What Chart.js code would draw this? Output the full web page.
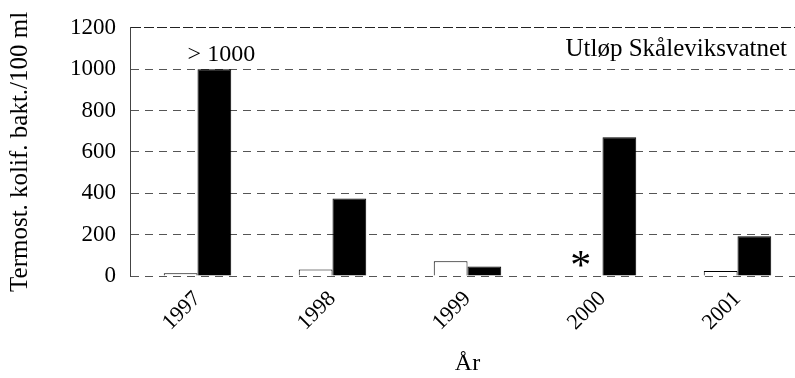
<!DOCTYPE html>
<html>
<head>
<meta charset="utf-8">
<script src="https://cdn.jsdelivr.net/npm/chart.js@4/dist/chart.umd.min.js"></script>
<style>
  html, body { margin: 0; padding: 0; background: #fff; overflow: hidden; }
  #wrap { width: 810px; height: 378px; }
</style>
</head>
<body>
<div id="wrap"><canvas id="myChart" width="810" height="378"></canvas></div>
<script>
var years = ['1997', '1998', '1999', '2000', '2001'];
var whiteValues = [13, 32, 71, 2, 24];     // hvite søyler
var blackValues = [1000, 375, 46, 671, 192]; // svarte søyler
var yTicks = [0, 200, 400, 600, 800, 1000, 1200];

var serif = "'Liberation Serif', 'Times New Roman', serif";

// skriver merkelappene inne i plottet
var notesPlugin = {
    id: 'notes',
    afterDatasetsDraw: function (chart) {
        var ctx = chart.ctx;
        var area = chart.chartArea;
        var white = chart.getDatasetMeta(0).data;
        var black = chart.getDatasetMeta(1).data;
        ctx.save();
        ctx.fillStyle = '#000';

        ctx.font = '24px ' + serif;
        ctx.textAlign = 'center';
        ctx.textBaseline = 'alphabetic';
        ctx.fillText('> 1000', black[0].x + 7, black[0].y - 8);

        ctx.font = '25px ' + serif;
        ctx.textAlign = 'right';
        ctx.textBaseline = 'middle';
        ctx.fillText('Utløp Skåleviksvatnet', 787, area.top + 22);

        ctx.font = '42px ' + serif;
        ctx.textAlign = 'center';
        ctx.textBaseline = 'alphabetic';
        ctx.fillText('*', white[3].x - 5, white[3].y + 3);
        ctx.restore();
    }
};

var ctx = document.getElementById('myChart').getContext('2d');
var chart = new Chart(ctx, {
    type: 'bar',
    data: {
        labels: years,
        datasets: [{
            label: 'Hvit',
            data: whiteValues,
            backgroundColor: '#fff',
            borderColor: '#000',
            borderWidth: 1,
            categoryPercentage: 0.5,
            barPercentage: 1.0
        }, {
            label: 'Svart',
            data: blackValues,
            backgroundColor: '#000',
            borderColor: '#000',
            borderWidth: 1,
            categoryPercentage: 0.5,
            barPercentage: 1.0
        }]
    },
    options: {
        responsive: false,
        animation: false,
        layout: { padding: { top: 24, right: 5, left: 0, bottom: 0 } },
        plugins: {
            legend: { display: false },
            tooltip: { enabled: false }
        },
        scales: {
            x: {
                grid: { display: false, drawTicks: false },
                border: { display: false },
                ticks: {
                    color: '#000',
                    font: { family: serif, size: 22 },
                    minRotation: 45,
                    maxRotation: 45,
                    padding: 10
                },
                title: {
                    display: true,
                    text: 'År',
                    color: '#000',
                    font: { family: serif, size: 24 },
                    padding: { top: 0, bottom: 0 }
                },
                afterFit: function (scale) { scale.height = 102; }
            },
            y: {
                min: 0,
                max: 1200,
                afterBuildTicks: function (scale) {
                    scale.ticks = yTicks.map(function (v) { return { value: v }; });
                },
                grid: {
                    drawTicks: false,
                    color: function (c) { return c.tick && c.tick.value === 1200 ? '#222' : '#555'; },
                    lineWidth: 1
                },
                border: {
                    display: true,
                    color: '#444',
                    width: 1,
                    dash: function (c) { return c.tick && c.tick.value === 1200 ? [10, 3] : [8, 6]; }
                },
                ticks: {
                    color: '#000',
                    font: { family: serif, size: 23 },
                    padding: 14,
                    callback: function (value) { return String(value); }
                },
                title: {
                    display: true,
                    text: 'Termost. kolif. bakt./100 ml',
                    color: '#000',
                    font: { family: serif, size: 25 },
                    padding: { top: 5, bottom: 0 }
                },
                afterFit: function (scale) { scale.width = 130; }
            }
        }
    },
    plugins: [notesPlugin]
});
</script>
</body>
</html>
